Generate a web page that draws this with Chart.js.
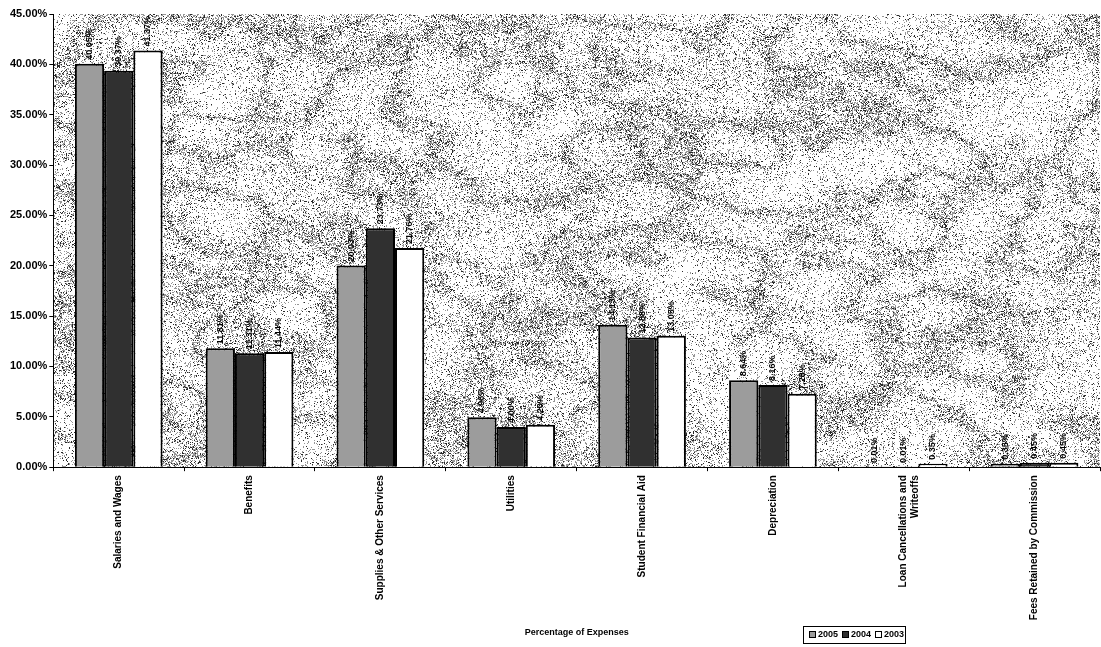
<!DOCTYPE html>
<html>
<head>
<meta charset="utf-8">
<script src="https://cdn.jsdelivr.net/npm/chart.js@4/dist/chart.umd.min.js"></script>
<style>
  html, body { margin: 0; padding: 0; background: #fff; }
  #wrap { width: 1101px; height: 647px; position: relative; }
</style>
</head>
<body>
<div id="wrap"><canvas id="c" width="1101" height="647"></canvas></div>
<script>
// Expense categories and share of total expenses per year (percent)
const categories = [
  'Salaries and Wages',
  'Benefits',
  'Supplies & Other Services',
  'Utilities',
  'Student Financial Aid',
  'Depreciation',
  ['Loan Cancellations and', 'Writeoffs'],
  'Fees Retained by Commission'
];
const years = ['2005', '2004', '2003'];
const values2005 = [40.05, 11.81, 20.03, 4.96, 14.13, 8.64, 0.01, 0.35];
const values2004 = [39.37, 11.31, 23.73, 4.00, 12.88, 8.16, 0.01, 0.45];
const values2003 = [41.37, 11.44, 21.76, 4.20, 13.05, 7.28, 0.35, 0.45];
const yTicks = [0, 5, 10, 15, 20, 25, 30, 35, 40, 45];

const FONT = '"Liberation Sans", Arial, sans-serif';
const fillColors = ['#9c9c9c', '#303030', '#ffffff'];

// Deterministic hash in [0,1)
function hash(x, y, s) {
  let h = (x * 374761393 + y * 668265263 + s * 2147483647) | 0;
  h = Math.imul(h ^ (h >>> 13), 1274126177);
  h = h ^ (h >>> 16);
  return (h >>> 0) / 4294967296;
}
// Smooth value noise
function vnoise(x, y, s) {
  const xi = Math.floor(x), yi = Math.floor(y);
  const xf = x - xi, yf = y - yi;
  const u = xf * xf * (3 - 2 * xf), v = yf * yf * (3 - 2 * yf);
  const a = hash(xi, yi, s), b = hash(xi + 1, yi, s);
  const c = hash(xi, yi + 1, s), d = hash(xi + 1, yi + 1, s);
  return a + (b - a) * u + (c - a) * v + (a - b - c + d) * u * v;
}

// Marbled speckle texture covering the plot area
function makeTexture(w, h) {
  const cv = document.createElement('canvas');
  cv.width = w; cv.height = h;
  const g = cv.getContext('2d');
  const img = g.createImageData(w, h);
  for (let y = 0; y < h; y++) {
    for (let x = 0; x < w; x++) {
      // skewed coordinates give diagonal grain
      const sx = (x + y * 0.55) / 70, sy = (y - x * 0.25) / 40;
      let n = 0, amp = 1, f = 1, tot = 0;
      for (let o = 0; o < 4; o++) {
        n += amp * vnoise(sx * f, sy * f, o + 1);
        tot += amp; amp *= 0.5; f *= 2.1;
      }
      n /= tot;
      const ridge = Math.pow(1 - Math.abs(2 * n - 1), 6);
      const cloud = vnoise(x / 90, y / 90, 9);
      const dens = 0.08 + 0.12 * cloud + 0.45 * ridge;
      const r = hash(x, y, 17);
      let val = 255;
      if (r < dens * 0.3) val = 40;
      else if (r < dens) val = 150;
      const i = (y * w + x) * 4;
      img.data[i] = img.data[i + 1] = img.data[i + 2] = val;
      img.data[i + 3] = 255;
    }
  }
  g.putImageData(img, 0, 0);
  return cv;
}

const backdrop = {
  id: 'backdrop',
  beforeDraw(chart) {
    const { ctx, chartArea: a } = chart;
    const w = Math.round(a.right - a.left), h = Math.round(a.bottom - a.top);
    ctx.save();
    ctx.drawImage(makeTexture(w, h), Math.round(a.left), Math.round(a.top));
    ctx.restore();
  }
};

// Rotated percentage labels above each bar
const valueLabels = {
  id: 'valueLabels',
  afterDatasetsDraw(chart) {
    const { ctx } = chart;
    ctx.save();
    ctx.font = 'bold 9px ' + FONT;
    ctx.fillStyle = '#000';
    ctx.textAlign = 'left';
    ctx.textBaseline = 'middle';
    chart.data.datasets.forEach((ds, di) => {
      chart.getDatasetMeta(di).data.forEach((bar, i) => {
        const txt = ds.data[i].toFixed(2) + '%';
        ctx.save();
        ctx.translate(bar.x, bar.y - 4);
        ctx.rotate(-Math.PI / 2);
        ctx.fillText(txt, 0, 0);
        ctx.restore();
      });
    });
    ctx.restore();
  }
};

// Boxed legend beside the axis title
const boxedLegend = {
  id: 'boxedLegend',
  afterDraw(chart) {
    const { ctx } = chart;
    const x0 = 803, y0 = 626, w = 102, h = 17;
    ctx.save();
    ctx.fillStyle = '#fff';
    ctx.fillRect(x0, y0, w, h);
    ctx.strokeStyle = '#000';
    ctx.lineWidth = 1;
    ctx.strokeRect(x0 + 0.5, y0 + 0.5, w, h);
    ctx.font = 'bold 9px ' + FONT;
    ctx.textBaseline = 'middle';
    let x = x0 + 6;
    chart.data.datasets.forEach(ds => {
      ctx.fillStyle = ds.backgroundColor;
      ctx.fillRect(x, y0 + 5, 7, 7);
      ctx.strokeStyle = '#000';
      ctx.strokeRect(x + 0.5, y0 + 5.5, 6, 6);
      ctx.fillStyle = '#000';
      ctx.fillText(ds.label, x + 9, y0 + 9);
      x += 33;
    });
    ctx.restore();
  }
};

const makeSet = (label, data, color) => ({
  label, data,
  backgroundColor: color,
  borderColor: '#000',
  borderWidth: 2,
  borderSkipped: 'bottom',
  barPercentage: 1,
  categoryPercentage: 0.67
});

new Chart(document.getElementById('c'), {
  type: 'bar',
  data: {
    labels: categories,
    datasets: [
      makeSet(years[0], values2005, fillColors[0]),
      makeSet(years[1], values2004, fillColors[1]),
      makeSet(years[2], values2003, fillColors[2])
    ]
  },
  options: {
    responsive: false,
    animation: false,
    devicePixelRatio: 1,
    layout: { padding: { top: 14, right: 1, bottom: 9, left: 8 } },
    plugins: {
      legend: { display: false },
      tooltip: { enabled: false }
    },
    scales: {
      x: {
        grid: { drawOnChartArea: false, color: '#000', tickLength: 4, offset: true },
        border: { color: '#000', width: 1 },
        ticks: {
          color: '#000',
          font: { family: FONT, size: 10, weight: 'bold' },
          minRotation: 90, maxRotation: 90,
          padding: 4
        },
        title: {
          display: true,
          text: 'Percentage of Expenses',
          color: '#000',
          font: { family: FONT, size: 9, weight: 'bold' },
          padding: { top: 3, bottom: 0 }
        }
      },
      y: {
        min: 0, max: 45,
        afterBuildTicks(scale) { scale.ticks = yTicks.map(v => ({ value: v })); },
        grid: { drawOnChartArea: false, color: '#000', tickLength: 4 },
        border: { color: '#000', width: 1 },
        ticks: {
          color: '#000',
          font: { family: FONT, size: 11, weight: 'bold' },
          padding: 2,
          callback: v => v.toFixed(2) + '%'
        }
      }
    }
  },
  plugins: [backdrop, valueLabels, boxedLegend]
});
</script>
</body>
</html>
